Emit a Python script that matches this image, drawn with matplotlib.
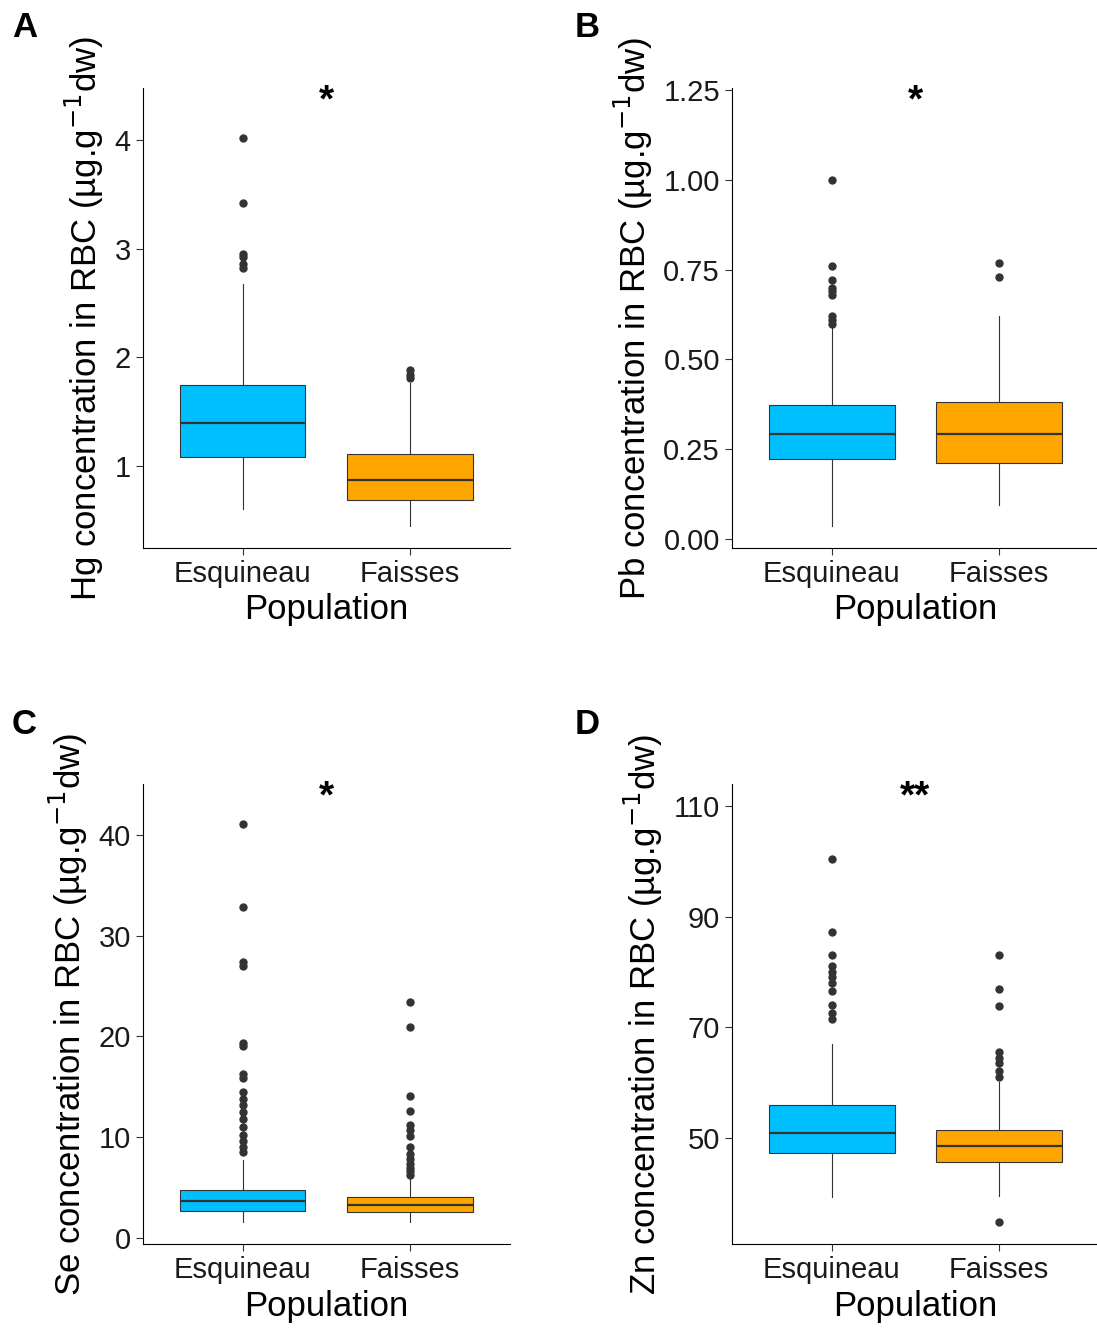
import matplotlib
matplotlib.use('Agg')
import matplotlib.pyplot as plt

plt.rcParams['font.family'] = ['Liberation Sans', 'DejaVu Sans']

groups = ['Esquineau', 'Faisses']
colors = ['#00BFFF', '#FFA500']

# stats per panel: (whislo, q1, med, q3, whishi, outliers) for each group
hg = [(0.60, 1.08, 1.40, 1.75, 2.68, [4.02, 3.42, 2.95, 2.92, 2.86, 2.82]),
      (0.45, 0.69, 0.87, 1.11, 1.76, [1.88, 1.84, 1.81])]
pb = [(0.036, 0.223, 0.292, 0.373, 0.616, [1.0, 0.76, 0.72, 0.70, 0.69, 0.68, 0.62, 0.61, 0.60]),
      (0.095, 0.212, 0.292, 0.382, 0.621, [0.77, 0.73])]
se = [(1.6, 2.67, 3.65, 4.74, 7.7, [41.1, 32.8, 27.4, 27.0, 19.3, 19.0, 16.3, 15.9, 14.5, 13.8,
                                    13.2, 12.5, 11.8, 11.0, 10.2, 9.6, 9.0, 8.5]),
      (1.6, 2.57, 3.26, 4.05, 5.9, [23.4, 20.9, 14.1, 12.6, 11.2, 10.7, 10.1, 9.0, 8.3, 7.8,
                                    7.4, 7.0, 6.7, 6.3])]
zn = [(39.2, 47.3, 50.9, 55.9, 67.0, [100.5, 87.3, 83.0, 81.0, 80.0, 79.0, 78.0, 76.5, 74.0, 72.5, 71.5]),
      (39.5, 45.5, 48.4, 51.3, 60.0, [83.0, 77.0, 73.8, 65.5, 64.5, 63.5, 62.0, 61.0, 34.7])]

panels = [
    ('A', 'Hg', hg, (0.245, 4.48), [1, 2, 3, 4], ['1', '2', '3', '4'], '*', [0.130, 0.5895], 0.011),
    ('B', 'Pb', pb, (-0.025, 1.256), [0, 0.25, 0.5, 0.75, 1.0, 1.25],
     ['0.00', '0.25', '0.50', '0.75', '1.00', '1.25'], '*', [0.667, 0.5895], 0.524),
    ('C', 'Se', se, (-0.6, 45.0), [0, 10, 20, 30, 40], ['0', '10', '20', '30', '40'], '*',
     [0.130, 0.068], 0.011),
    ('D', 'Zn', zn, (30.7, 114), [50, 70, 90, 110], ['50', '70', '90', '110'], '**',
     [0.667, 0.068], 0.524),
]

fig = plt.figure(figsize=(10.97, 13.35), dpi=100)

for letter, elem, stats, ylim, ticks, labels, star, (left, bottom), lx in panels:
    ax = fig.add_axes([left, bottom, 0.335, 0.3446])
    bx = []
    for g, s in zip(groups, stats):
        bx.append(dict(label=g, whislo=s[0], q1=s[1], med=s[2], q3=s[3], whishi=s[4], fliers=s[5]))
    b = ax.bxp(bx, positions=[1, 2], widths=0.75, patch_artist=True, showcaps=False,
               boxprops=dict(edgecolor='#333333', linewidth=0.8),
               medianprops=dict(color='#333333', linewidth=1.6),
               whiskerprops=dict(color='#333333', linewidth=0.8),
               flierprops=dict(marker='o', markersize=5, markerfacecolor='#333333',
                               markeredgecolor='#333333'))
    for patch, c in zip(b['boxes'], colors):
        patch.set_facecolor(c)
    ax.set_xlim(0.4, 2.6)
    ax.set_ylim(*ylim)
    ax.set_yticks(ticks)
    ax.set_yticklabels(labels)
    ax.spines['top'].set_visible(False)
    ax.spines['right'].set_visible(False)
    ax.tick_params(labelsize=21, colors='#333333', labelcolor='#1a1a1a', length=5)
    ax.set_xlabel('Population', fontsize=25, labelpad=4)
    ax.set_ylabel(elem + ' concentration in RBC (µg.g$^{-1}$dw)', fontsize=25, labelpad=6)
    ax.text(1.5, ylim[1] - (ylim[1] - ylim[0]) * 0.03, star, ha='center', va='center',
            fontsize=28, fontweight='bold')
    fig.text(lx, bottom + 0.3446 + 0.045, letter, fontsize=25, fontweight='bold',
             ha='left', va='center')

fig.savefig('out.png', dpi=100)
